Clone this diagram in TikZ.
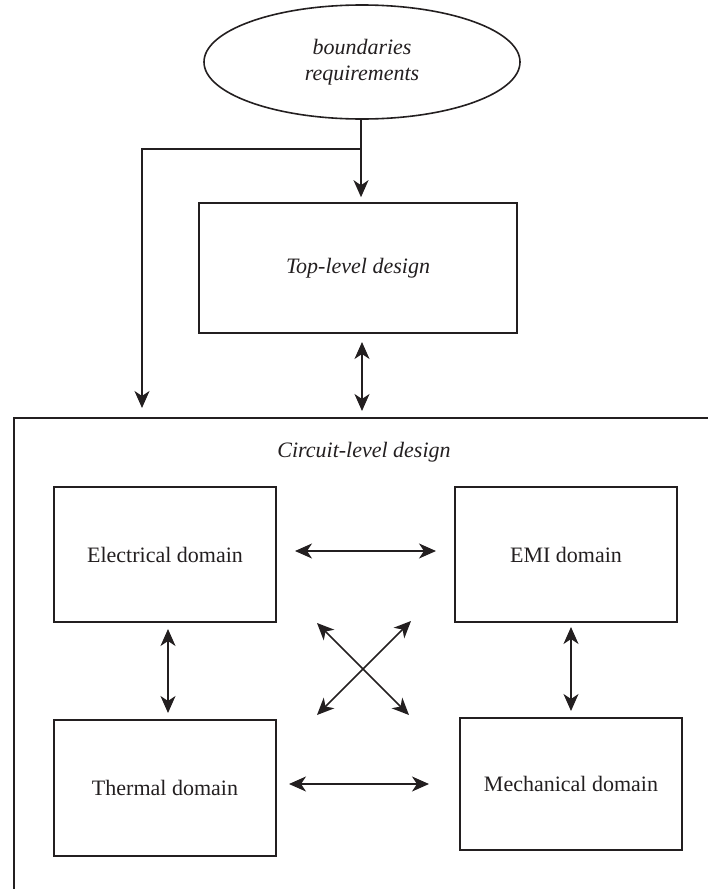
\documentclass[tikz,border=0pt]{standalone}
\usepackage{fontspec}
\setmainfont{Liberation Serif}
\usetikzlibrary{arrows.meta,shapes.geometric}
\definecolor{ink}{RGB}{35,31,32}
\begin{document}
\begin{tikzpicture}[x=1pt,y=-1pt,
  every node/.style={font=\fontsize{22}{26}\selectfont, text=ink},
  stage/.style={draw=ink, line width=1.6pt, inner sep=0pt, align=center},
  tip/.style={Stealth[length=17pt,width=15pt,inset=5pt]},
  link/.style={draw=ink, line width=1.6pt, -{Stealth[length=17pt,width=15pt,inset=5pt]}},
  dlink/.style={draw=ink, line width=1.6pt, {Stealth[length=17pt,width=15pt,inset=5pt]}-{Stealth[length=17pt,width=15pt,inset=5pt]}}]
  \useasboundingbox (0,0) rectangle (708,889);

  % input ellipse
  \node[stage, ellipse, minimum width=316pt, minimum height=114pt, font=\fontsize{22}{26}\selectfont\itshape] (req) at (362,62) {boundaries\\requirements};

  % top-level design
  \node[stage, minimum width=318pt, minimum height=130pt, font=\fontsize{22}{26}\selectfont\itshape] (top) at (358,268) {Top-level design};

  % circuit-level frame (open on right and bottom)
  \coordinate (fbl) at (14,889);
  \coordinate (ftl) at (14,418);
  \coordinate (ftr) at (708,418);
  \draw[ink, line width=1.6pt] (fbl) -- (ftl) -- (ftr);
  \node[font=\fontsize{22}{26}\selectfont\itshape] (cld) at (364,452) {Circuit-level design};

  % domain boxes
  \node[stage, minimum width=222pt, minimum height=135pt] (elec) at (165,554.5) {Electrical domain};
  \node[stage, minimum width=222pt, minimum height=135pt] (emi) at (566,554.5) {EMI domain};
  \node[stage, minimum width=222pt, minimum height=136pt] (therm) at (165,788) {Thermal domain};
  \node[stage, minimum width=222pt, minimum height=132pt] (mech) at (571,784) {Mechanical domain};

  % feed from requirements
  \coordinate (split) at (361,149);
  \coordinate (bend) at (142,149);
  \coordinate (fin) at (142,408);
  \draw[ink, line width=1.6pt] (req.south -| split) -- (split);
  \draw[link] (split) -- ([yshift=5pt]top.north -| split);
  \draw[link] (split) -- (bend) -- (fin);

  % top-level <-> circuit-level
  \coordinate (tl1) at (362,342);
  \coordinate (tl2) at (362,411);
  \draw[dlink] (tl1) -- (tl2);

  % domain couplings
  \coordinate (h1a) at (295,551);
  \coordinate (h1b) at (436,551);
  \draw[dlink] (h1a) -- (h1b);
  \coordinate (h2a) at (289,784);
  \coordinate (h2b) at (429,784);
  \draw[dlink] (h2a) -- (h2b);
  \coordinate (v1a) at (168,629);
  \coordinate (v1b) at (168,713);
  \draw[dlink] (v1a) -- (v1b);
  \coordinate (v2a) at (571,627);
  \coordinate (v2b) at (571,711);
  \draw[dlink] (v2a) -- (v2b);
  \coordinate (d1a) at (317,623);
  \coordinate (d1b) at (409,715);
  \draw[dlink] (d1a) -- (d1b);
  \coordinate (d2a) at (411,621);
  \coordinate (d2b) at (317,715);
  \draw[dlink] (d2a) -- (d2b);
\end{tikzpicture}
\end{document}
